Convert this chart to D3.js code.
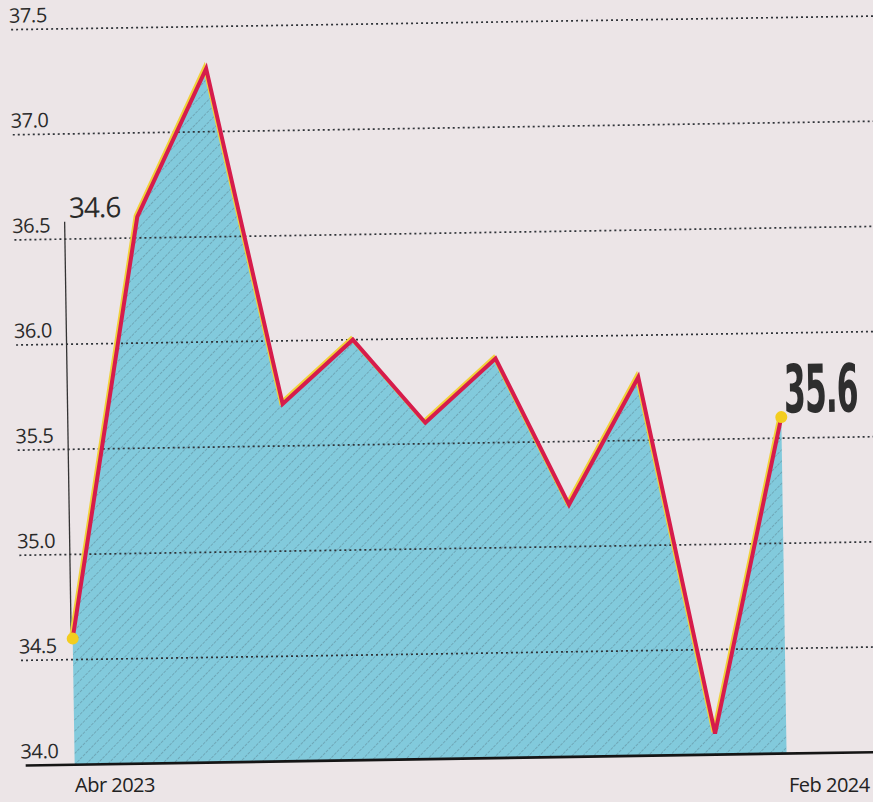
<!DOCTYPE html>
<html>
<head>
<meta charset="utf-8">
<script src="https://cdn.jsdelivr.net/npm/d3@7"></script>
<style>
  html, body { margin: 0; padding: 0; background: #ebe4e6; }
  svg { display: block; }
</style>
</head>
<body>
<div id="chart"></div>
<script>
// months shown on the chart, Apr 2023 .. Feb 2024
const months = ["Abr 2023", "May 2023", "Jun 2023", "Jul 2023", "Ago 2023", "Sep 2023",
                "Oct 2023", "Nov 2023", "Dic 2023", "Ene 2024", "Feb 2024"];
const values = [34.6, 36.6, 37.3, 35.7, 36.0, 35.6, 35.9, 35.2, 35.8, 34.1, 35.6];
const yTicks = [34.0, 34.5, 35.0, 35.5, 36.0, 36.5, 37.0, 37.5];
const xLabels = ["Abr 2023", "Feb 2024"];

const width = 873;
const height = 802;

const svg = d3.select("#chart")
    .append("svg")
    .attr("width", width)
    .attr("height", height);

svg.append("rect")
    .attr("width", width)
    .attr("height", height)
    .attr("fill", "#ece5e7");

// hatch pattern for the area
const defs = svg.append("defs");
const pattern = defs.append("pattern")
    .attr("id", "hatch")
    .attr("patternUnits", "userSpaceOnUse")
    .attr("width", 8)
    .attr("height", 7.8)
    .attr("patternTransform", "rotate(-45)");
pattern.append("rect")
    .attr("width", 8)
    .attr("height", 7.8)
    .attr("fill", "#82cadc");
pattern.append("line")
    .attr("x1", 0).attr("x2", 8)
    .attr("y1", 0.5).attr("y2", 0.5)
    .attr("stroke", "#6a9fae")
    .attr("stroke-width", 0.8)
    .attr("stroke-dasharray", "3,1");

// the photo is slightly tilted
const chart = svg.append("g")
    .attr("transform", "rotate(-0.9, 436, 401)");

const x = d3.scalePoint()
    .domain(months)
    .range([69, 781]);

const y = d3.scaleLinear()
    .domain([34, 37.5])
    .range([759, 23]);

const data = months.map((m, i) => ({ month: m, value: values[i] }));

// area
const area = d3.area()
    .x(d => x(d.month))
    .y0(y(34))
    .y1(d => y(d.value));

chart.append("path")
    .datum(data)
    .attr("d", area)
    .attr("fill", "url(#hatch)");

// dotted gridlines
chart.selectAll(".grid")
    .data(yTicks.filter(t => t > 34))
    .enter()
    .append("line")
    .attr("class", "grid")
    .attr("x1", 17)
    .attr("x2", 890)
    .attr("y1", d => y(d))
    .attr("y2", d => y(d))
    .attr("stroke", "#2f3338")
    .attr("stroke-width", 1.7)
    .attr("stroke-dasharray", "2,3");

// baseline
chart.append("line")
    .attr("x1", 20)
    .attr("x2", 890)
    .attr("y1", y(34))
    .attr("y2", y(34))
    .attr("stroke", "#151515")
    .attr("stroke-width", 2.6);

// tick labels
chart.selectAll(".tick-label")
    .data(yTicks)
    .enter()
    .append("text")
    .attr("class", "tick-label")
    .attr("x", 15)
    .attr("y", d => y(d) - 7)
    .attr("font-family", "'Open Sans', sans-serif")
    .attr("font-size", "20px")
    .attr("letter-spacing", "-0.4")
    .attr("fill", "#2a2a2a")
    .text(d => d.toFixed(1));

// leader line for first value
const first = data[0];
const last = data[data.length - 1];

chart.append("line")
    .attr("x1", x(first.month) - 1.5)
    .attr("x2", x(first.month) - 1.5)
    .attr("y1", y(first.value))
    .attr("y2", 216)
    .attr("stroke", "#333")
    .attr("stroke-width", 1.3);

chart.append("text")
    .attr("x", x(first.month) + 3)
    .attr("y", 212)
    .attr("font-family", "'Open Sans', sans-serif")
    .attr("font-size", "28px")
    .attr("letter-spacing", "-1")
    .attr("fill", "#2a2a2a")
    .text(first.value.toFixed(1));

// line with yellow misregistration
const line = d3.line()
    .x(d => x(d.month))
    .y(d => y(d.value));

chart.append("path")
    .datum(data)
    .attr("d", line)
    .attr("transform", "translate(-1.8,-1.5)")
    .attr("fill", "none")
    .attr("stroke", "#f1d23a")
    .attr("stroke-width", 3.5)
    .attr("stroke-linejoin", "miter");

chart.append("path")
    .datum(data)
    .attr("d", line)
    .attr("fill", "none")
    .attr("stroke", "#d61c4c")
    .attr("stroke-width", 4)
    .attr("stroke-linejoin", "miter");

// end dots
chart.selectAll(".dot")
    .data([first, last])
    .enter()
    .append("circle")
    .attr("class", "dot")
    .attr("cx", d => x(d.month))
    .attr("cy", d => y(d.value))
    .attr("r", 6)
    .attr("fill", "#f3cd1f");

// big last value, condensed and stretched tall
chart.append("text")
    .attr("transform", `translate(${x(last.month) + 3},418) scale(1,1.9)`)
    .attr("font-family", "'DejaVu Sans Condensed', sans-serif")
    .attr("font-weight", "bold")
    .attr("font-size", "35px")
    .attr("letter-spacing", "-1")
    .attr("fill", "#2e2e2e")
    .text(last.value.toFixed(1));

// first and last month labels
svg.selectAll(".month-label")
    .data(xLabels)
    .enter()
    .append("text")
    .attr("class", "month-label")
    .attr("x", (d, i) => i === 0 ? x(d) + 6 : x(d) + 8)
    .attr("y", 792)
    .attr("font-family", "'Open Sans', sans-serif")
    .attr("font-size", "20px")
    .attr("letter-spacing", "-0.5")
    .attr("fill", "#222")
    .text(d => d);
</script>
</body>
</html>
